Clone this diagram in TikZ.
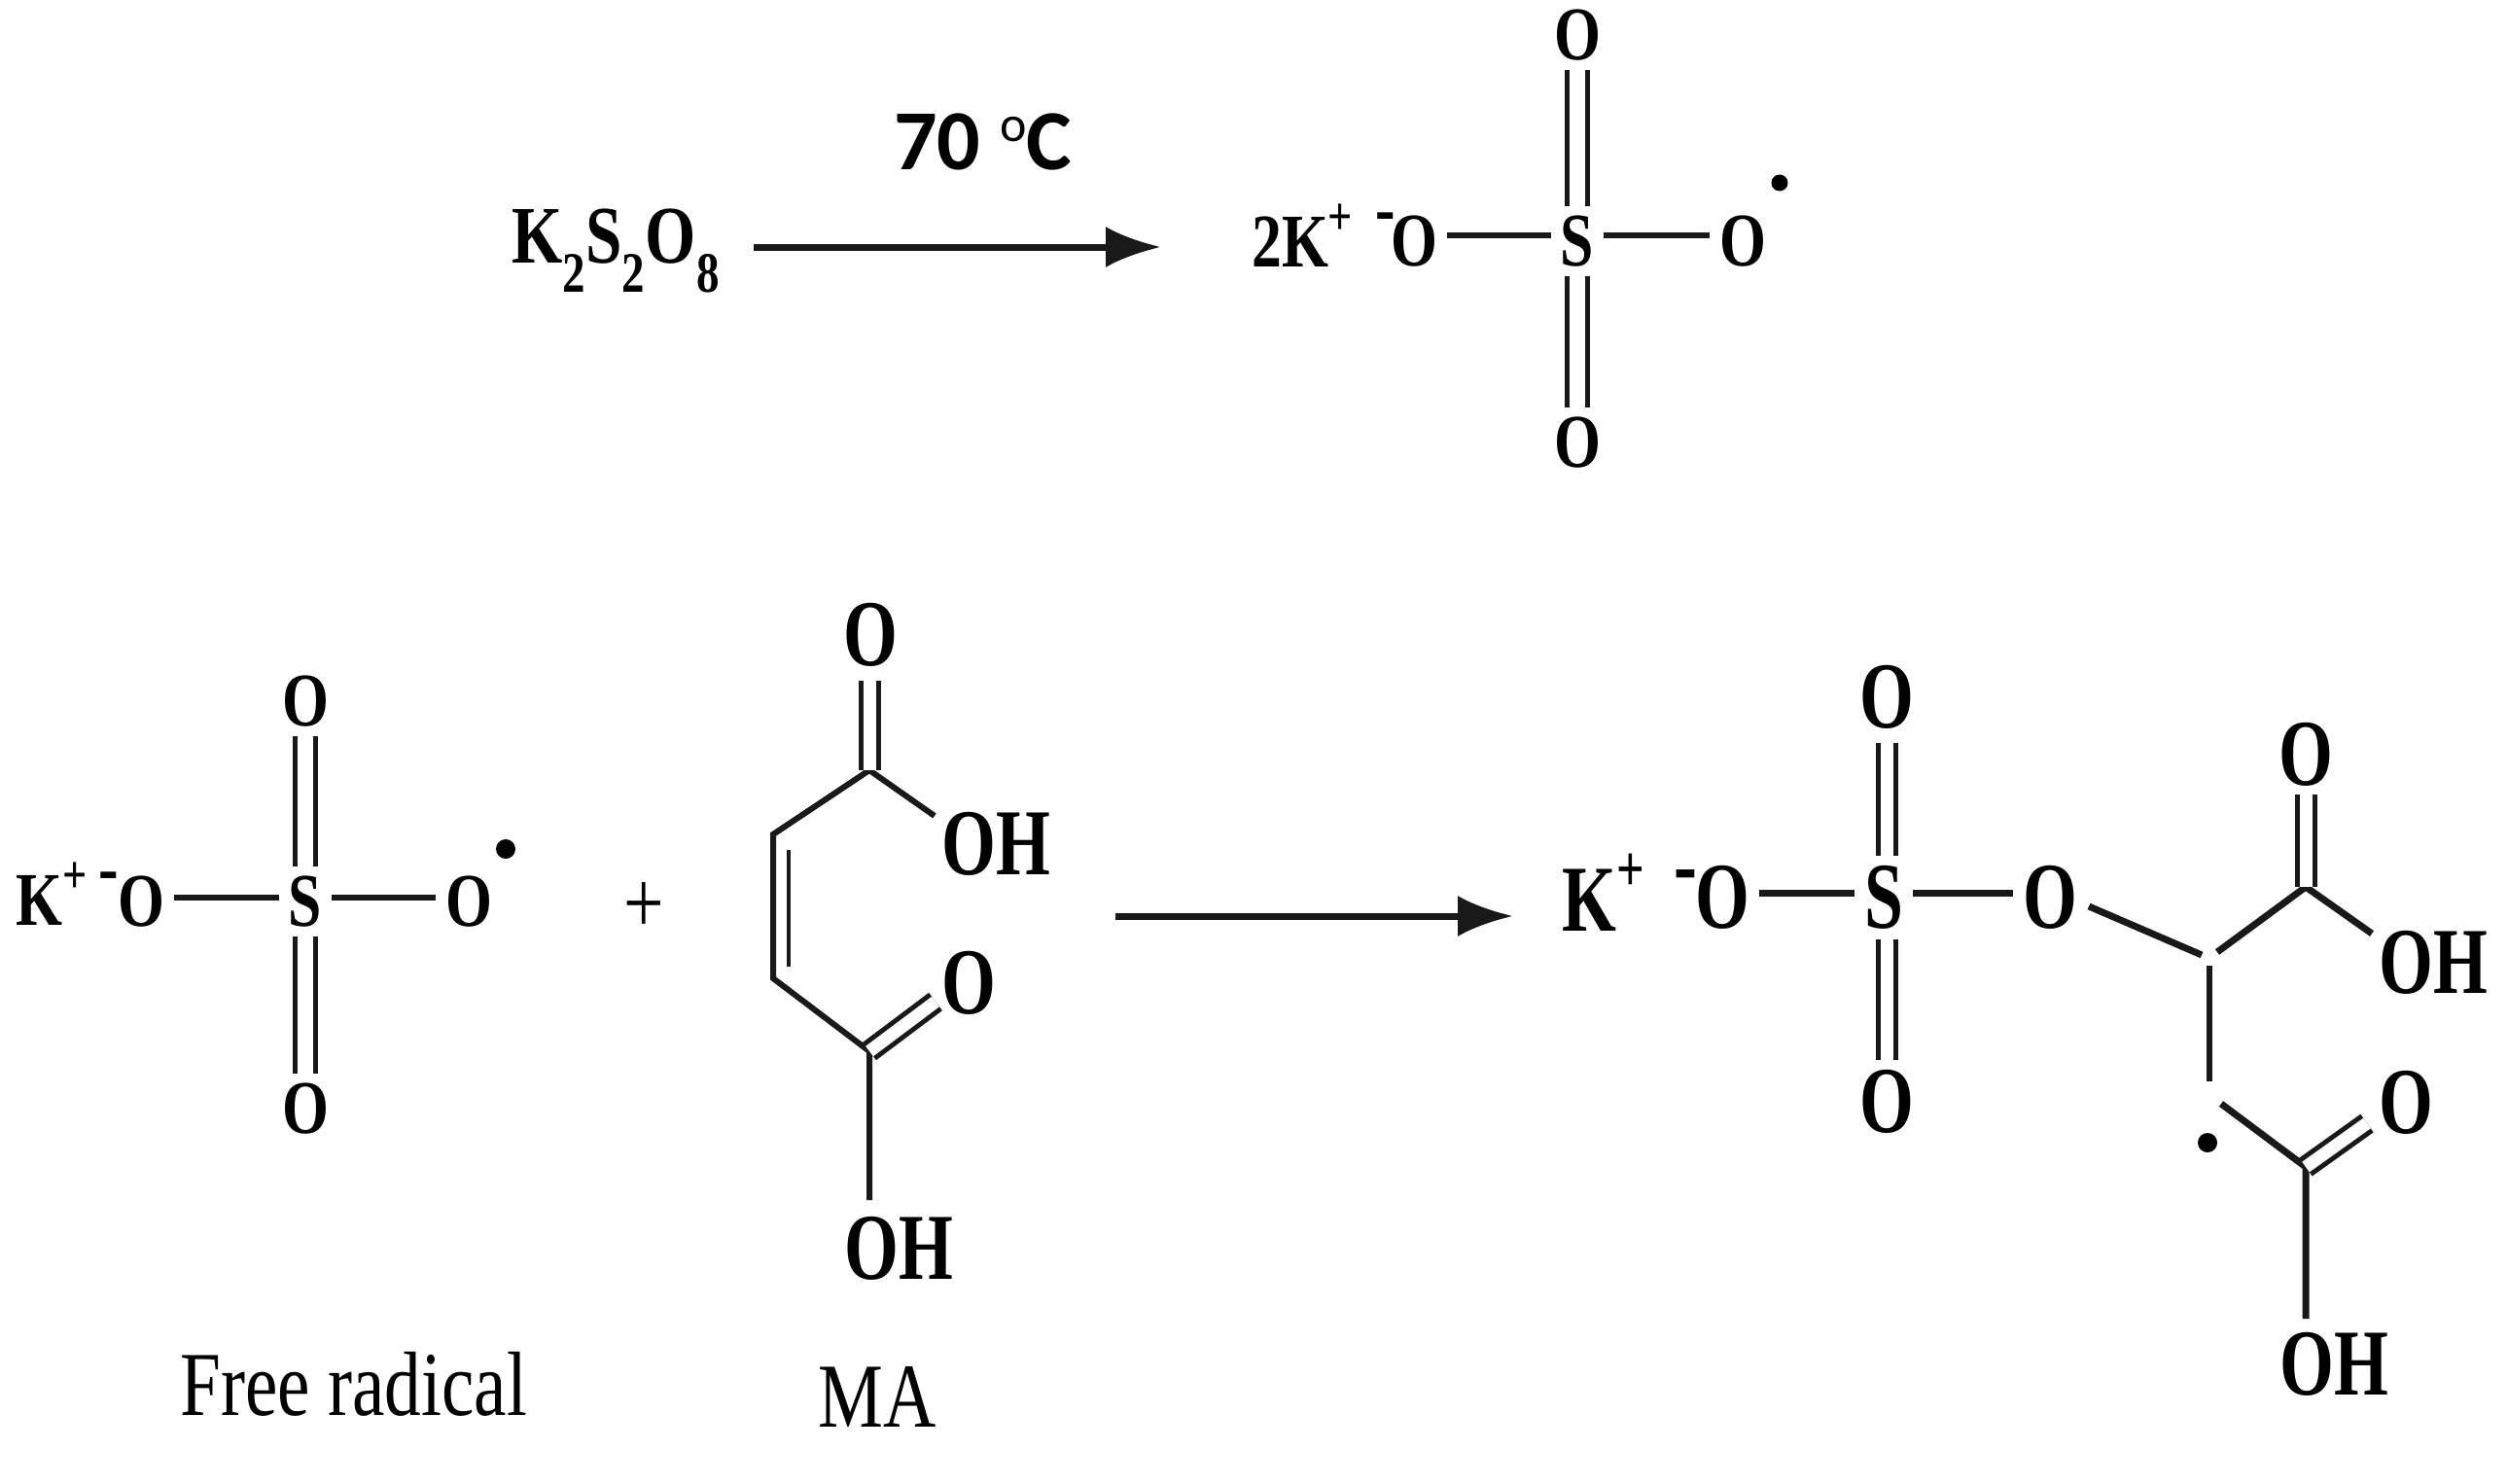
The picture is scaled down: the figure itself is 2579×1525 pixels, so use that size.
\documentclass[tikz,border=0pt]{standalone}
\usepackage{fontspec}
\usetikzlibrary{arrows.meta}
\newfontfamily\chemsmall{Liberation Serif}[FakeStretch=0.79]
\newfontfamily\chembig{Liberation Serif}[FakeStretch=0.74]
\newfontfamily\chemsalt{Liberation Serif}[FakeStretch=0.8]
\newfontfamily\plainserif{Liberation Serif}[FakeStretch=0.8]
\newfontfamily\calib{Carlito}
\newcommand{\upplus}[1]{\raisebox{.42em}{\fontsize{#1}{#1}\selectfont +}}
\tikzset{
  atomS/.style={inner sep=10pt,font=\chemsmall\bfseries\fontsize{78}{78}\selectfont},
  atomB/.style={inner sep=10pt,font=\chembig\bfseries\fontsize{97}{97}\selectfont},
  plainlab/.style={inner sep=0pt,font=\plainserif\fontsize{94}{94}\selectfont},
  bond/.style={line width=6pt,black!90},
  dblS/.style={line width=5pt,black!90,double=white,double distance=16pt},
  dblB/.style={line width=5pt,black!90,double=white,double distance=13pt},
  rarrow/.style={line width=7pt,black!90,-{Latex[length=57pt,width=42pt]}},
  radical/.style={circle,fill=black,inner sep=0pt,minimum size=#1}
}
\begin{document}
\begin{tikzpicture}[x=1pt,y=-1pt]
\useasboundingbox (0,0) rectangle (2579,1525);
\fill[white] (0,0) rectangle (2579,1525);

% --- top reaction ---
\node[atomS,font=\chemsalt\bfseries\fontsize{84}{84}\selectfont,anchor=base west,inner sep=0pt] (salt) at (526,270) {K\textsubscript{2}S\textsubscript{2}O\textsubscript{8}};
\node[inner sep=0pt,anchor=base west,font=\calib\bfseries\fontsize{88}{88}\selectfont] (temp) at (919,175) {70 \raisebox{.34em}{\fontsize{52}{52}\selectfont\mdseries o}C};
\coordinate (a1s) at (775,254);
\coordinate (a1e) at (1194,254);
\draw[rarrow] (a1s) -- (a1e);

\node[atomS,anchor=base west,inner sep=0pt] (tk) at (1287,274) {2K\upplus{56}};
\node[atomS,inner sep=0pt] (tm) at (1425,230) {-};
\node[atomS] (tol) at (1454,248) {O};
\node[atomS] (ts) at (1622,248) {S};
\node[atomS] (tor) at (1792,248) {O};
\node[atomS] (tot) at (1622,36) {O};
\node[atomS] (tob) at (1622,455) {O};
\node[radical=17pt] (tdot) at (1830,188) {};
\draw[bond] ([yshift=6pt]tol.east) -- ([yshift=6pt]ts.west);
\draw[bond] ([yshift=6pt]ts.east) -- ([yshift=6pt]tor.west);
\draw[dblS] (ts.north) -- (tot.south);
\draw[dblS] (ts.south) -- (tob.north);

% --- free radical ---
\node[atomS,anchor=base west,inner sep=0pt] (lk) at (16,951) {K\upplus{56}};
\node[atomS,inner sep=0pt] (lm) at (112,908) {-};
\node[atomS] (lol) at (145,927) {O};
\node[atomS] (ls) at (314,927) {S};
\node[atomS] (lor) at (482,927) {O};
\node[atomS] (lot) at (314,721) {O};
\node[atomS] (lob) at (314,1140) {O};
\node[radical=20pt] (ldot) at (520,873) {};
\draw[bond] ([yshift=4pt]lol.east) -- ([yshift=4pt]ls.west);
\draw[bond] ([yshift=4pt]ls.east) -- ([yshift=4pt]lor.west);
\draw[dblS] (ls.north) -- (lot.south);
\draw[dblS] (ls.south) -- (lob.north);
\node[plainlab,font=\plainserif\fontsize{92}{92}\selectfont] (plus) at (662,934) {+};
\node[plainlab,anchor=base west] (lab1) at (185,1455) {Free radical};

% --- maleic acid ---
\node[atomB] (mot) at (895,653) {O};
\node[atomB,anchor=west,inner sep=0pt] (moh1) at (968,868) {OH};
\node[atomB] (mor) at (996,1011) {O};
\node[atomB,anchor=west,inner sep=0pt] (moh2) at (868,1284) {OH};
\coordinate (mc1) at (894,792);
\coordinate (mc2) at (795,858);
\coordinate (mc3) at (795,1006);
\coordinate (mc4) at (894,1081);
\coordinate (mh1) at (961,839);
\coordinate (mh2) at (894,1234);
\coordinate (mi1) at (811,874);
\coordinate (mi2) at (811,994);
\coordinate (mo2) at (962,1030);
\coordinate (mot2) at (894,700);
\draw[bond,line join=miter] (mh1) -- (mc1) -- (mc2) -- (mc3) -- (mc4) -- (mh2);
\draw[bond,line width=4.5pt] (mi1) -- (mi2);
\draw[dblB] (mc1) -- (mot2);
\draw[dblB] (mc4) -- (mo2);
\node[plainlab,anchor=base west] (lab2) at (841,1467) {MA};
\coordinate (a2s) at (1147,942);
\coordinate (a2e) at (1556,942);
\draw[rarrow] (a2s) -- (a2e);

% --- product ---
\node[atomB,anchor=base west,inner sep=0pt] (rk) at (1606,957) {K\upplus{68}};
\node[atomB,inner sep=0pt] (rm) at (1733,908) {-};
\node[atomB] (rol) at (1771,923) {O};
\node[atomB] (rs) at (1937,923) {S};
\node[atomB] (ror) at (2108,923) {O};
\node[atomB] (rot) at (1940,717) {O};
\node[atomB] (rob) at (1940,1133) {O};
\node[atomB] (rot2) at (2371,776) {O};
\node[atomB,anchor=west,inner sep=0pt] (roh1) at (2446,990) {OH};
\node[atomB] (ror2) at (2474,1134) {O};
\node[atomB,anchor=west,inner sep=0pt] (roh2) at (2344,1403) {OH};
\node[radical=20pt] (rdot) at (2270,1175) {};
\coordinate (ra) at (2148,932);
\coordinate (rb) at (2264,982);
\coordinate (rc) at (2280,979);
\coordinate (rd) at (2371,912);
\coordinate (re) at (2439,960);
\coordinate (rf) at (2272,993);
\coordinate (rg) at (2272,1112);
\coordinate (rh) at (2284,1135);
\coordinate (ri) at (2371,1200);
\coordinate (rj) at (2371,1356);
\coordinate (rk2) at (2434,1155);
\draw[bond,line width=7pt] ([yshift=5pt]rol.east) -- ([yshift=5pt]rs.west);
\draw[bond,line width=7pt] ([yshift=5pt]rs.east) -- ([yshift=5pt]ror.west);
\draw[dblB] ([xshift=3pt]rs.north) -- ([yshift=-4pt]rot.south);
\draw[dblB] ([xshift=3pt]rs.south) -- (rob.north);
\draw[bond,line width=7pt] (ra) -- (rb);
\draw[bond,line width=7pt,line join=miter] (rc) -- (rd) -- (re);
\draw[dblB,shorten >=-2pt] (rd) -- (rot2.south);
\draw[bond] (rf) -- (rg);
\draw[bond,line width=7pt] (rh) -- (ri) -- (rj);
\draw[dblB] (ri) -- (rk2);
\end{tikzpicture}
\end{document}
